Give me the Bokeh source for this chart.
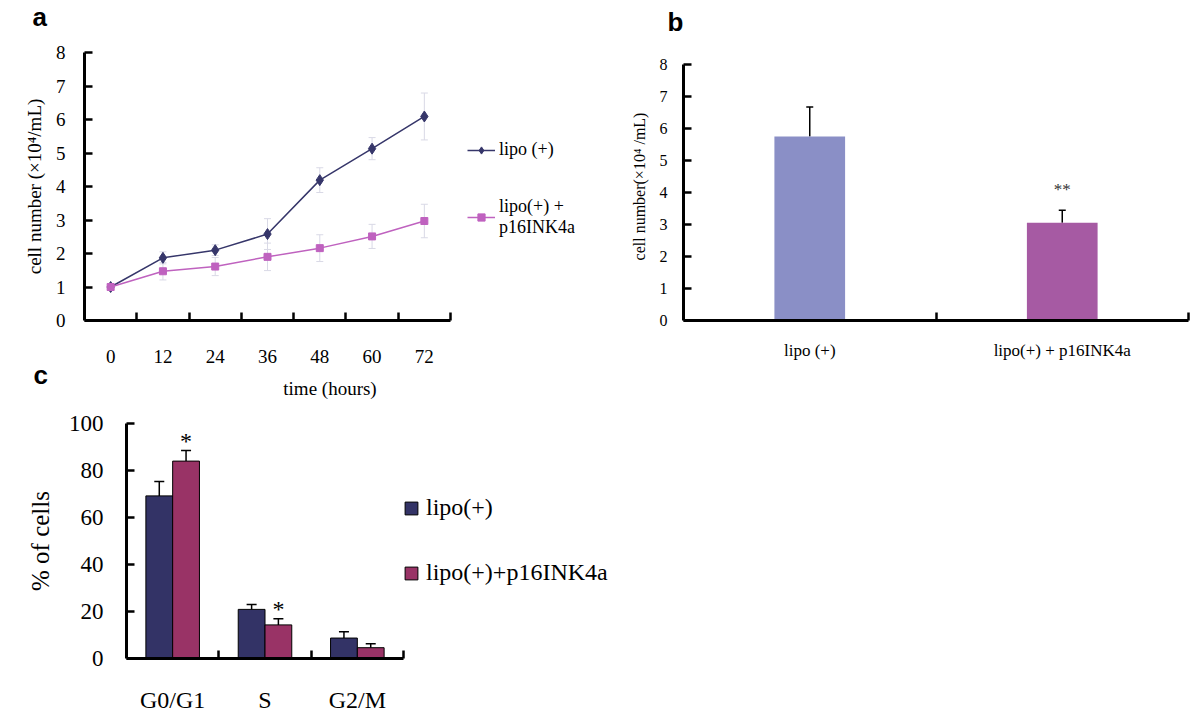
from bokeh.plotting import figure
from bokeh.models import (Range1d, FixedTicker, Whisker, ColumnDataSource, Legend,
                          LegendItem, TeeHead)
from bokeh.layouts import column, row
from bokeh.transform import dodge
from bokeh.embed import file_html
from bokeh.resources import INLINE
from bokeh.core.properties import value

# ---------------- data ----------------
# panel a: growth curve
hours = [0, 12, 24, 36, 48, 60, 72]
lipo_a = [1.0, 1.87, 2.10, 2.58, 4.19, 5.13, 6.09]
lipo_a_err = [0.05, 0.18, 0.16, 0.46, 0.37, 0.33, 0.70]
p16_a = [1.0, 1.47, 1.61, 1.90, 2.16, 2.51, 2.97]
p16_a_err = [0.05, 0.26, 0.27, 0.41, 0.40, 0.36, 0.50]
series_a = ["lipo (+)", "lipo(+) +\np16INK4a"]

# panel b: cell number at 72 h
groups_b = ["lipo (+)", "lipo(+) + p16INK4a"]
vals_b = [5.76, 3.06]
errs_b = [0.92, 0.39]
sig_b = ["", "**"]

# panel c: cell cycle
phases = ["G0/G1", "S", "G2/M"]
lipo_c = [69.2, 20.9, 8.7]
lipo_c_err = [6.1, 2.1, 2.7]
p16_c = [84.0, 14.3, 4.6]
p16_c_err = [4.5, 2.6, 1.7]
sig_c = ["*", "*", ""]
series_c = ["lipo(+)", "lipo(+)+p16INK4a"]

# panel letters
letters = ["a", "b", "c"]

SERIF = "Liberation Serif"
SANS = "Liberation Sans"
NAVY_A = "#36366a"
ORCHID_A = "#bf62bf"
ERR_A = "#d9d9e6"


def style_axes(p, fs_tick, fs_label):
    p.outline_line_color = None
    p.xgrid.visible = False
    p.ygrid.visible = False
    for ax in (p.xaxis[0], p.yaxis[0]):
        ax.axis_line_width = 3
        ax.axis_line_color = "black"
        ax.major_label_text_font = SERIF
        ax.major_label_text_font_size = fs_tick
        ax.major_label_text_color = "black"
        ax.axis_label_text_font = SERIF
        ax.axis_label_text_font_size = fs_label
        ax.axis_label_text_font_style = "normal"
        ax.axis_label_text_color = "black"
    x = p.xaxis[0]
    x.major_tick_line_color = None
    x.major_tick_in = 0
    x.major_tick_out = 0
    x.minor_tick_in = 8
    x.minor_tick_out = 0
    x.minor_tick_line_width = 2.5
    x.minor_tick_line_color = "black"
    y = p.yaxis[0]
    y.major_tick_in = 8
    y.major_tick_out = 0
    y.major_tick_line_width = 2.5
    y.major_tick_line_color = "black"
    y.minor_tick_line_color = None


# ---------------- panel a ----------------
# frame spans the plot and the legend area; the axis line is bounded to the data span
a_units_per_px = 84 / 366
pa = figure(width=580, height=407, x_range=Range1d(-6, 78 + 125 * a_units_per_px),
            y_range=Range1d(0, 8), title=None,
            output_backend="svg", toolbar_location=None,
            min_border_left=84, min_border_right=5, min_border_top=52, min_border_bottom=87)
style_axes(pa, "19px", "19px")

src_l = ColumnDataSource(dict(x=hours, y=lipo_a,
                              lo=[v - e for v, e in zip(lipo_a, lipo_a_err)],
                              up=[v + e for v, e in zip(lipo_a, lipo_a_err)]))
src_p = ColumnDataSource(dict(x=hours, y=p16_a,
                              lo=[v - e for v, e in zip(p16_a, p16_a_err)],
                              up=[v + e for v, e in zip(p16_a, p16_a_err)]))
for s in (src_l, src_p):
    pa.add_layout(Whisker(source=s, base="x", upper="up", lower="lo", line_color=ERR_A, line_width=1,
                          upper_head=TeeHead(size=7, line_color=ERR_A, line_width=1),
                          lower_head=TeeHead(size=7, line_color=ERR_A, line_width=1)))

r1 = pa.line("x", "y", source=src_l, line_color=NAVY_A, line_width=1.5)
m1 = pa.scatter("x", "y", source=src_l, marker="diamond", size=11, color=NAVY_A)
r2 = pa.line("x", "y", source=src_p, line_color=ORCHID_A, line_width=1.5)
m2 = pa.scatter("x", "y", source=src_p, marker="square", size=7, color=ORCHID_A)

pa.xaxis.ticker = FixedTicker(ticks=hours, minor_ticks=[h + 6 for h in hours])
pa.xaxis.bounds = (-6, 78)
pa.xaxis.major_label_standoff = 29
pa.xaxis.axis_label = "time (hours)"
pa.xaxis.axis_label_standoff = 12
pa.yaxis.ticker = FixedTicker(ticks=list(range(0, 9)))
pa.yaxis.major_label_standoff = 19
pa.yaxis.axis_label = "cell number (×10⁴/mL)"
pa.yaxis.axis_label_standoff = 8

leg_a = Legend(items=[LegendItem(label=series_a[0], renderers=[r1, m1]),
                      LegendItem(label=series_a[1], renderers=[r2, m2])],
               location=(383, 82), margin=0, padding=0, spacing=36,
               glyph_width=28, glyph_height=18, label_standoff=4,
               label_text_font=SERIF, label_text_font_size="18px", label_text_color="black",
               label_text_line_height=1.35,
               border_line_color=None, background_fill_alpha=0)
pa.add_layout(leg_a)

# ---------------- panel b ----------------
pb = figure(width=620, height=407, x_range=Range1d(0, 2), y_range=Range1d(0, 8.385), title=None,
            output_backend="svg", toolbar_location=None,
            min_border_left=103, min_border_right=12, min_border_top=52, min_border_bottom=87)
style_axes(pb, "16px", "16px")
xb = [i + 0.5 for i in range(len(groups_b))]
src_b = ColumnDataSource(dict(x=xb, top=vals_b, up=[v + e for v, e in zip(vals_b, errs_b)],
                              sig=sig_b, sy=[v + e + 0.65 for v, e in zip(vals_b, errs_b)],
                              color=["#8a8fc6", "#a65aa3"]))
pb.vbar(x="x", top="top", width=0.28, source=src_b, fill_color="color", line_color=None)
pb.add_layout(Whisker(source=src_b, base="x", upper="up", lower="top", line_color="black",
                      line_width=1.5, lower_head=None,
                      upper_head=TeeHead(size=7, line_color="black", line_width=1.5)))
pb.text(x="x", y="sy", text="sig", source=src_b, text_font=value(SERIF), text_font_size="17px",
        text_align="center", text_baseline="middle", text_color="#333333")
pb.xaxis.ticker = FixedTicker(ticks=xb, minor_ticks=[1, 2])
pb.xaxis.major_label_overrides = {x: g for x, g in zip(xb, groups_b)}
pb.xaxis.major_label_text_font_size = "17px"
pb.xaxis.major_label_standoff = 20
pb.yaxis.ticker = FixedTicker(ticks=list(range(0, 9)))
pb.yaxis.bounds = (0, 8)
pb.yaxis.major_label_standoff = 16
pb.yaxis.axis_label = "cell number(×10⁴ /mL)"
pb.yaxis.axis_label_standoff = 9

# ---------------- panel c ----------------
c_units_per_px = 3 / 277
pc = figure(width=640, height=315, x_range=Range1d(0, 3 + 232 * c_units_per_px),
            y_range=Range1d(0, 100), title=None,
            output_backend="svg", toolbar_location=None,
            min_border_left=126, min_border_right=5, min_border_top=16, min_border_bottom=64)
style_axes(pc, "23px", "25px")
xc = [i + 0.5 for i in range(len(phases))]
src_c = ColumnDataSource(dict(
    x=xc,
    lipo=lipo_c, lipo_up=[v + e for v, e in zip(lipo_c, lipo_c_err)],
    p16=p16_c, p16_up=[v + e for v, e in zip(p16_c, p16_c_err)],
    sig=sig_c, sy=[v + e + 4.0 for v, e in zip(p16_c, p16_c_err)]))
bw = 0.29
b1 = pc.vbar(x=dodge("x", -bw / 2, range=pc.x_range), top="lipo", width=bw, source=src_c,
             fill_color="#333366", line_color="black", line_width=1)
b2 = pc.vbar(x=dodge("x", bw / 2, range=pc.x_range), top="p16", width=bw, source=src_c,
             fill_color="#993366", line_color="black", line_width=1)
for off, lo, up in ((-bw / 2, "lipo", "lipo_up"), (bw / 2, "p16", "p16_up")):
    pc.add_layout(Whisker(source=src_c, base=dodge("x", off, range=pc.x_range), upper=up, lower=lo,
                          line_color="black", line_width=1.5, lower_head=None,
                          upper_head=TeeHead(size=10, line_color="black", line_width=1.5)))
pc.text(x=dodge("x", bw / 2, range=pc.x_range), y="sy", text="sig", source=src_c,
        text_font=value(SERIF), text_font_size="24px", text_align="center",
        text_baseline="middle", text_color="black")
pc.xaxis.ticker = FixedTicker(ticks=xc, minor_ticks=[1, 2, 3])
pc.xaxis.bounds = (0, 3)
pc.xaxis.major_label_overrides = {x: g for x, g in zip(xc, phases)}
pc.xaxis.major_label_text_font_size = "24px"
pc.xaxis.major_label_standoff = 28
pc.yaxis.ticker = FixedTicker(ticks=[0, 20, 40, 60, 80, 100])
pc.yaxis.major_label_standoff = 23
pc.yaxis.axis_label = "% of cells"
pc.yaxis.axis_label_standoff = 12

leg_c = Legend(items=[LegendItem(label=series_c[0], renderers=[b1]),
                      LegendItem(label=series_c[1], renderers=[b2])],
               location=(277, 72), margin=0, padding=0, spacing=38,
               glyph_width=16, glyph_height=16, label_standoff=7,
               label_text_font=SERIF, label_text_font_size="24px", label_text_color="black",
               border_line_color=None, background_fill_alpha=0)
pc.add_layout(leg_c)

# ---------------- panel letters (transparent page overlay, pixel space) ----------------
pl = figure(width=1200, height=722, x_range=Range1d(0, 1200), y_range=Range1d(722, 0), title=None,
            x_axis_type=None, y_axis_type=None, output_backend="svg", toolbar_location=None,
            min_border=0)
pl.margin = (-722, 0, 0, 0)
pl.outline_line_color = None
pl.grid.visible = False
pl.background_fill_color = None
pl.border_fill_color = None
pl.text(x=[32, 667, 33], y=[16, 21, 374], text=letters, text_font=value(SANS),
        text_font_style="bold", text_font_size="26px", text_baseline="alphabetic",
        text_color="black")

layout = column(row(pa, pb), pc)
open("out.html", "w").write(file_html([layout, pl], INLINE))
